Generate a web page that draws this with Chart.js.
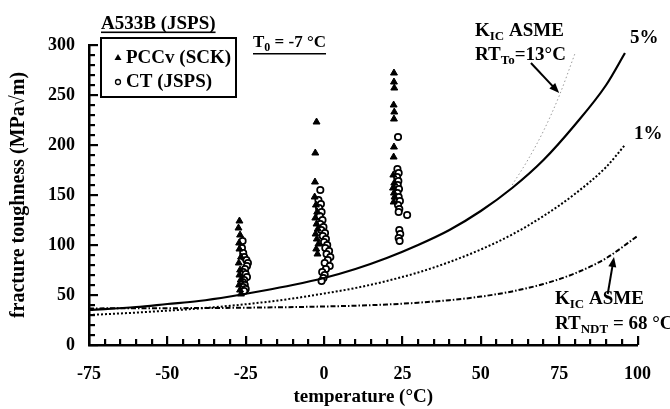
<!DOCTYPE html>
<html lang="en">
<head>
<meta charset="UTF-8" />
<title>A533B fracture toughness</title>
<script src="https://cdn.jsdelivr.net/npm/chart.js"></script>
<style>
  body { margin: 0; background: #fff; }
  canvas { display: block; }
</style>
</head>
<body>
<canvas id="toughChart" width="670" height="409"></canvas>
<script>
// values (temperature in °C, toughness in MPa√m)
const masterT = [-75, -60, -50, -40, -30, -20, -10, 0, 10, 20, 30, 40, 50, 60, 70, 80, 90, 96];
const k5pct = [35, 38, 41, 44, 48.5, 54, 60, 67, 76, 87, 100, 115, 134, 157, 185, 220, 260, 292];
const k1pct = [30, 32.4, 34.3, 36.5, 39.2, 42.5, 46.5, 51.5, 57, 64, 72.5, 83, 95.5, 110.5, 129, 151, 178, 200];
const asmeNdtT = [-75, -50, -25, 0, 10, 20, 30, 40, 50, 60, 70, 80, 90, 100];
const asmeNdtK = [36.6, 36.8, 37.3, 38.5, 39.3, 40.5, 42.3, 44.8, 48.4, 53.6, 61, 71.6, 86.8, 109];
const asmeToT = [60, 65, 70, 75, 80];
const asmeToK = [160, 185, 214, 249, 291];

// PCCv (SCK) - triangles
const pccvT = [-27, -27.3, -26.8, -27.1, -27, -26.5, -27.2, -26.8, -27, -26.6, -27.1, -26.8, -26.5,
  -2.4, -2.8, -2.9, -3, -2.6, -2.2, -2.8, -2.4, -2, -2.7, -2.3, -1.8, -2.5, -2.1,
  22.3, 22.3, 22.4, 22.2, 22.4, 22.3, 22.3, 22.2, 22.1, 22.4, 22, 22.3, 22.5, 22.2];
const pccvK = [124, 117, 110, 102, 96, 88, 82, 75, 70, 65, 60, 55, 51,
  223, 192, 163, 148, 140, 133, 127, 121, 116, 111, 106, 101, 96, 91,
  272, 263, 257, 240, 233, 226, 198, 188, 170, 162, 157, 152, 148, 143];

// CT (JSPS) - open circles
const ctT = [-26, -26.2, -25.8, -25.5, -24.8, -24.3, -24.6, -25.2, -25.8, -25, -24.6, -25.5, -26, -25.3, -25.8, -25, -25.5,
  -1.2, -1.8, -1, -1.6, -0.8, -1.4, -0.5, -1.2, -0.2, -0.9, 0.3, -0.4, 0.6, 0, 1, 0.4, 1.6, 0.8, 2, 1.2, 0.2, 1.8, 0.6, -0.6, 0.2, -0.2, -0.8,
  23.6, 23.4, 23.8, 23.3, 23.7, 23.5, 23.9, 23.4, 23.8, 24.2, 23.6, 24, 23.8, 26.5, 24, 24.3, 23.8, 24.1];
const ctK = [104, 97, 92, 88, 85, 82, 79, 76, 73, 71, 68, 65, 63, 60, 58, 56, 54,
  155, 145, 141, 137, 133, 129, 125, 121, 118, 115, 112, 109, 106, 103, 100, 97, 94, 91, 88, 85, 82, 79, 76, 73, 70, 67, 64,
  208, 176, 172, 168, 164, 160, 156, 152, 148, 144, 140, 136, 133, 130, 115, 111, 107, 104];

const xTicks = { min: -75, max: 100, step: 5, labelEvery: 25 };
const yTicks = { min: 0, max: 300, step: 10, labelEvery: 50 };

const pts = (xs, ys) => xs.map((v, i) => ({ x: v, y: ys[i] }));
const FONT = 'Liberation Serif, Times New Roman, serif';

function txt(ctx, parts, x, y, size) {
  // parts: [text, isSub]
  let cx = x;
  parts.forEach(([t, sub]) => {
    const s = sub ? Math.round(size * 0.68) : size;
    ctx.font = 'bold ' + s + 'px ' + FONT;
    ctx.fillText(t, cx, sub ? y + size * 0.22 : y);
    cx += ctx.measureText(t).width;
  });
  return cx;
}

function arrow(ctx, x1, y1, x2, y2) {
  const a = Math.atan2(y2 - y1, x2 - x1);
  ctx.lineWidth = 2;
  ctx.beginPath();
  ctx.moveTo(x1, y1);
  ctx.lineTo(x2 - 6 * Math.cos(a), y2 - 6 * Math.sin(a));
  ctx.stroke();
  ctx.beginPath();
  ctx.moveTo(x2, y2);
  ctx.lineTo(x2 - 10 * Math.cos(a) + 4 * Math.sin(a), y2 - 10 * Math.sin(a) - 4 * Math.cos(a));
  ctx.lineTo(x2 - 10 * Math.cos(a) - 4 * Math.sin(a), y2 - 10 * Math.sin(a) + 4 * Math.cos(a));
  ctx.closePath();
  ctx.fill();
}

const decorPlugin = {
  id: 'decor',
  afterDraw(chart) {
    const ctx = chart.ctx;
    const sx = chart.scales.x, sy = chart.scales.y;
    const bottom = sy.getPixelForValue(yTicks.min);
    const left = sx.getPixelForValue(xTicks.min);
    ctx.save();
    ctx.setLineDash([]);
    ctx.strokeStyle = '#000';
    ctx.fillStyle = '#000';

    // tick marks pointing inwards (longer at labelled values)
    const xs = [], ys = [];
    for (let i = 0; i <= (xTicks.max - xTicks.min) / xTicks.step; i++) xs.push(xTicks.min + i * xTicks.step);
    for (let i = 0; i <= (yTicks.max - yTicks.min) / yTicks.step; i++) ys.push(yTicks.min + i * yTicks.step);
    xs.forEach(v => {
      const px = Math.round(sx.getPixelForValue(v));
      const len = (v - xTicks.min) % xTicks.labelEvery === 0 ? 9 : 6;
      ctx.fillRect(px - 1, bottom - len, 2.2, len);
    });
    ys.forEach(v => {
      const py = Math.round(sy.getPixelForValue(v));
      const len = v % yTicks.labelEvery === 0 ? 9 : 6;
      ctx.fillRect(left, py - 1, len, 2.2);
    });

    ctx.textBaseline = 'alphabetic';
    ctx.textAlign = 'left';

    // material heading
    let end = txt(ctx, [['A533B (JSPS)']], 101, 29, 19);
    ctx.fillRect(101, 31.5, end - 101, 1.6);

    // legend box
    ctx.lineWidth = 2;
    ctx.strokeRect(101, 38, 135, 59);
    ctx.beginPath();
    ctx.moveTo(118, 54); ctx.lineTo(121.5, 60); ctx.lineTo(114.5, 60); ctx.closePath();
    ctx.fill();
    txt(ctx, [['PCCv (SCK)']], 126, 63, 19);
    ctx.lineWidth = 1.3;
    ctx.beginPath(); ctx.arc(118, 82, 2.5, 0, Math.PI * 2); ctx.stroke();
    txt(ctx, [['CT (JSPS)']], 126, 87, 19);

    // T0 note
    end = txt(ctx, [['T'], ['0', true], [' = -7 °C']], 253, 47, 17);
    ctx.fillRect(253, 53, end - 253, 1.5);

    // upper ASME label
    txt(ctx, [['K'], ['IC', true], [' ASME']], 475, 36, 19);
    txt(ctx, [['RT'], ['To', true], ['=13°C']], 475, 60, 19);
    arrow(ctx, sx.getPixelForValue(66), sy.getPixelForValue(282), sx.getPixelForValue(75), sy.getPixelForValue(252));

    // percentile labels
    txt(ctx, [['5%']], 630, 43, 19);
    txt(ctx, [['1%']], 634, 139, 19);

    // lower ASME label
    txt(ctx, [['K'], ['IC', true], [' ASME']], 555, 304, 19);
    txt(ctx, [['RT'], ['NDT', true], [' = 68 °C']], 555, 329, 19);
    arrow(ctx, sx.getPixelForValue(90.5), sy.getPixelForValue(51), sx.getPixelForValue(92.5), sy.getPixelForValue(88));

    ctx.restore();
  }
};

const lineSet = (data, dash, width, color) => ({
  data, showLine: true, pointRadius: 0, borderColor: color || '#000',
  borderWidth: width, borderDash: dash, cubicInterpolationMode: 'monotone', fill: false
});

new Chart(document.getElementById('toughChart'), {
  type: 'scatter',
  data: {
    datasets: [
      lineSet(pts(asmeToT, asmeToK), [1.5, 2.5], 1, '#9a9a9a'),
      lineSet(pts(asmeNdtT, asmeNdtK), [5, 2, 1.5, 2], 2),
      lineSet(pts(masterT, k1pct), [2, 2], 2),
      lineSet(pts(masterT, k5pct), [], 2.2),
      {
        label: 'PCCv (SCK)', data: pts(pccvT, pccvK), pointStyle: 'triangle',
        pointRadius: 4, backgroundColor: '#000', borderColor: '#000', borderWidth: 1
      },
      {
        label: 'CT (JSPS)', data: pts(ctT, ctK), pointStyle: 'circle',
        pointRadius: 3.2, backgroundColor: '#fff', borderColor: '#000', borderWidth: 1.7
      }
    ]
  },
  options: {
    responsive: false,
    animation: false,
    layout: { padding: { top: 45, right: 27, left: 0, bottom: 0 } },
    plugins: { legend: { display: false }, tooltip: { enabled: false } },
    scales: {
      x: {
        type: 'linear', min: xTicks.min, max: xTicks.max,
        afterFit: s => { s.height = 64; },
        grid: { display: true, drawOnChartArea: false, drawTicks: false },
        border: { display: true, color: '#000', width: 2.5 },
        ticks: {
          stepSize: xTicks.step, autoSkip: false, maxRotation: 0, padding: 19, color: '#000',
          font: { family: FONT, size: 18, weight: 'bold' },
          callback: v => (v % xTicks.labelEvery === 0 ? String(v) : '')
        },
        title: {
          display: true, text: 'temperature (°C)', color: '#000',
          font: { family: FONT, size: 19, weight: 'bold' }, padding: { top: 0, bottom: 1 }
        }
      },
      y: {
        type: 'linear', min: yTicks.min, max: yTicks.max,
        afterFit: s => { s.width = 89; },
        grid: { display: true, drawOnChartArea: false, drawTicks: false },
        border: { display: true, color: '#000', width: 2.5 },
        ticks: {
          stepSize: yTicks.step, autoSkip: false, padding: 14, color: '#000',
          font: { family: FONT, size: 18, weight: 'bold' },
          callback: v => (v % yTicks.labelEvery === 0 ? String(v) : '')
        },
        title: {
          display: true, text: 'fracture toughness (MPa√m)', color: '#000',
          font: { family: FONT, size: 20, weight: 'bold' }, padding: { top: 7, bottom: 0 }
        }
      }
    }
  },
  plugins: [decorPlugin]
});
</script>
</body>
</html>
